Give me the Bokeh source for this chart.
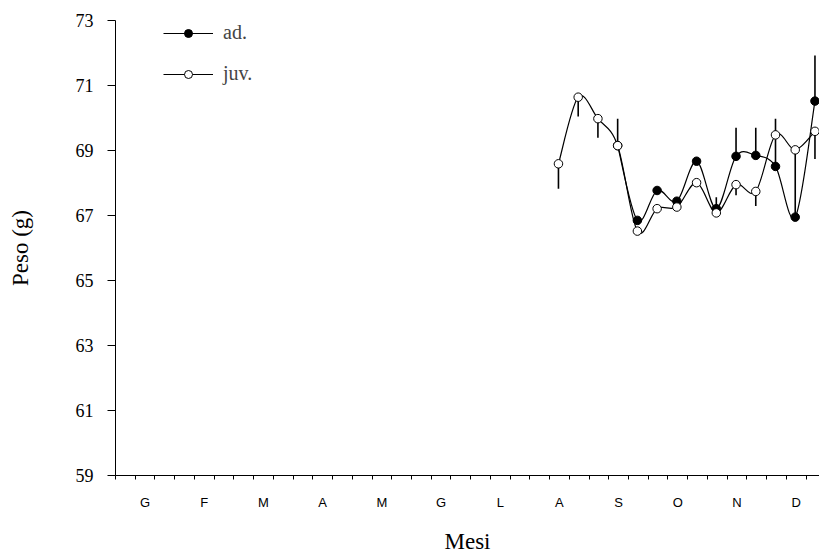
import math
from bokeh.plotting import figure
from bokeh.models import FixedTicker, Range1d, Legend, LegendItem, ColumnDataSource
from bokeh.embed import file_html
from bokeh.resources import INLINE

NaN = float("nan")

# --- data -------------------------------------------------------------
months = ["G", "F", "M", "A", "M", "G", "L", "A", "S", "O", "N", "D"]
y_ticks = [59, 61, 63, 65, 67, 69, 71, 73]

# position of each sample in ten-day periods (decadi) from 1 January
decade = [22.45, 23.45, 24.45, 25.45, 26.45, 27.45, 28.45,
          29.45, 30.45, 31.45, 32.45, 33.45, 34.45, 35.45]

juv = [68.59, 70.64, 69.98, 69.15, 66.52, 67.21, 67.26,
       68.01, 67.08, 67.95, 67.74, 69.48, 69.02, 69.59]
ad = [NaN, NaN, NaN, 69.15, 66.85, 67.77, 67.44,
      68.67, 67.21, 68.82, 68.85, 68.51, 66.95, 70.52]

# end of the (one-sided) error bars
juv_err = [67.82, 70.05, 69.39, NaN, NaN, NaN, NaN,
           NaN, 67.56, 67.62, 67.29, NaN, NaN, 68.74]
ad_err = [NaN, NaN, NaN, 69.98, NaN, NaN, NaN,
          NaN, NaN, 69.70, 69.70, 69.98, 69.02, 71.92]


def spline_segments(xs, ys):
    pts = [(x, y) for x, y in zip(xs, ys) if not math.isnan(y)]
    n = len(pts)
    d = dict(x0=[], y0=[], x1=[], y1=[], cx0=[], cy0=[], cx1=[], cy1=[])
    for i in range(n - 1):
        p0 = pts[i - 1] if i > 0 else pts[i]
        p1 = pts[i]
        p2 = pts[i + 1]
        p3 = pts[i + 2] if i + 2 < n else pts[i + 1]
        d["x0"].append(p1[0]); d["y0"].append(p1[1])
        d["x1"].append(p2[0]); d["y1"].append(p2[1])
        d["cx0"].append(p1[0] + (p2[0] - p0[0]) / 6)
        d["cy0"].append(p1[1] + (p2[1] - p0[1]) / 6)
        d["cx1"].append(p2[0] - (p3[0] - p1[0]) / 6)
        d["cy1"].append(p2[1] - (p3[1] - p1[1]) / 6)
    return ColumnDataSource(d)


def err_source(xs, ys, es):
    d = dict(x=[], y0=[], y1=[])
    for x, y, e in zip(xs, ys, es):
        if not math.isnan(e) and not math.isnan(y):
            d["x"].append(x); d["y0"].append(y); d["y1"].append(e)
    return ColumnDataSource(d)


SERIF = "Liberation Serif"
SANS = "Liberation Sans"

p = figure(width=819, height=556,
           x_range=Range1d(0, 35.68), y_range=Range1d(59, 73),
           output_backend="svg", toolbar_location=None,
           min_border_left=115, min_border_right=0,
           min_border_top=20, min_border_bottom=81)
p.background_fill_color = "white"
p.border_fill_color = "white"
p.outline_line_color = None
p.xgrid.visible = False
p.ygrid.visible = False

# curves
for vals in (ad, juv):
    p.bezier(x0="x0", y0="y0", x1="x1", y1="y1",
             cx0="cx0", cy0="cy0", cx1="cx1", cy1="cy1",
             source=spline_segments(decade, vals),
             line_color="black", line_width=1.2)

# error bars
for vals, errs in ((ad, ad_err), (juv, juv_err)):
    p.segment(x0="x", y0="y0", x1="x", y1="y1",
              source=err_source(decade, vals, errs),
              line_color="black", line_width=1.6)

ad_pts = p.scatter(decade, ad, size=8.5, marker="circle",
                   fill_color="black", line_color="black", line_width=1)
juv_pts = p.scatter(decade, juv, size=8.5, marker="circle",
                    fill_color="white", line_color="black", line_width=1)

ad_proxy = p.line(decade, ad, line_color="black", line_width=1.2, visible=False)
juv_proxy = p.line(decade, juv, line_color="black", line_width=1.2, visible=False)

legend = Legend(items=[LegendItem(label="ad.", renderers=[ad_proxy, ad_pts]),
                       LegendItem(label="juv.", renderers=[juv_proxy, juv_pts])],
                location=(48, 390), glyph_width=50, glyph_height=20,
                label_height=20, spacing=18, padding=0, margin=0,
                label_standoff=10, border_line_alpha=0,
                background_fill_alpha=0,
                label_text_font=SERIF, label_text_font_size="20px")
p.add_layout(legend)

# x axis: minor ticks every ten days, month letters at month centres
xa = p.xaxis[0]
centres = [1.5 + 3 * i for i in range(len(months))]
xa.ticker = FixedTicker(ticks=centres, minor_ticks=list(range(0, 36)))
xa.major_label_overrides = {c: m for c, m in zip(centres, months)}
xa.major_tick_out = 0
xa.major_tick_in = 0
xa.minor_tick_out = 4
xa.minor_tick_in = 0
xa.major_label_text_font = SANS
xa.major_label_text_font_size = "13px"
xa.major_label_standoff = 15
xa.axis_label = "Mesi"
xa.axis_label_text_font = SERIF
xa.axis_label_text_font_size = "23px"
xa.axis_label_text_font_style = "normal"
xa.axis_label_standoff = 16

ya = p.yaxis[0]
ya.ticker = FixedTicker(ticks=y_ticks, minor_ticks=[])
ya.major_tick_out = 8
ya.major_tick_in = 0
ya.minor_tick_out = 0
ya.minor_tick_in = 0
ya.major_label_text_font = SERIF
ya.major_label_text_font_size = "18px"
ya.major_label_standoff = 14
ya.axis_label = "Peso (g)"
ya.axis_label_text_font = SERIF
ya.axis_label_text_font_size = "23px"
ya.axis_label_text_font_style = "normal"
ya.axis_label_standoff = 40

for ax in (xa, ya):
    ax.axis_line_color = "black"
    ax.major_tick_line_color = "black"
    ax.minor_tick_line_color = "black"
    ax.major_label_text_color = "black"
    ax.axis_label_text_color = "black"

open("out.html", "w").write(file_html(p, INLINE))
